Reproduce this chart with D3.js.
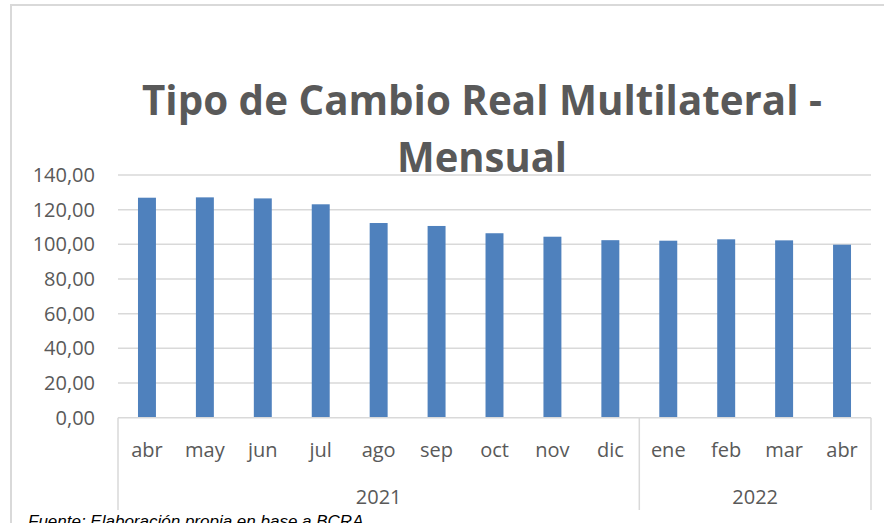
<!DOCTYPE html>
<html>
<head>
<meta charset="utf-8">
<script src="https://cdn.jsdelivr.net/npm/d3@7"></script>
<style>
  body { margin: 0; background: #fff; }
  svg { display: block; }
</style>
</head>
<body>
<svg id="svg"></svg>
<script>
// datos
var meses = ["abr", "may", "jun", "jul", "ago", "sep", "oct", "nov", "dic", "ene", "feb", "mar", "abr"];
var anios = ["2021", "2021", "2021", "2021", "2021", "2021", "2021", "2021", "2021", "2022", "2022", "2022", "2022"];
var valores = [126.9, 127.1, 126.5, 123.1, 112.3, 110.6, 106.4, 104.4, 102.4, 102.1, 102.9, 102.3, 99.8];
var ticksY = [0, 20, 40, 60, 80, 100, 120, 140];

var w = 884, h = 523;
var pLeft = 118, pRight = 871, pTop = 175, pBottom = 417.7;

var svg = d3.select("#svg")
    .attr("width", w)
    .attr("height", h)

// borde del grafico
svg.append("path")
    .attr("d", "M11," + h + "V5H" + w)
    .attr("stroke", "#d9d9d9")
    .attr("stroke-width", 2)
    .attr("fill", "none")

var x = d3.scaleBand()
    .domain(d3.range(meses.length))
    .range([pLeft, pRight])
    .paddingInner(0.69)
    .paddingOuter(0.345)

var y = d3.scaleLinear()
    .domain([0, 140])
    .range([pBottom, pTop])

// grilla
svg.append("g")
    .selectAll("line")
    .data(ticksY.filter(function(d){return d > 0;}))
    .enter().append("line")
    .attr("x1", pLeft)
    .attr("x2", pRight)
    .attr("y1", function(d){return y(d);})
    .attr("y2", function(d){return y(d);})
    .attr("stroke", "#d9d9d9")
    .attr("stroke-width", 1.5)

// eje y
var yAxis = svg.append("g")
    .attr("transform", "translate(" + pLeft + ",0)")
    .call(d3.axisLeft(y).tickValues(ticksY).tickSize(0).tickPadding(23)
        .tickFormat(function(d){return d3.format(".2f")(d).replace(".", ",");}))
yAxis.select(".domain").remove()
yAxis.selectAll("text")
    .attr("fill", "#595959")
    .style("font-family", "'Open Sans', sans-serif")
    .style("font-size", "20px")

// barras
svg.append("g")
    .selectAll("rect")
    .data(valores)
    .enter().append("rect")
    .attr("x", function(d, i){return x(i);})
    .attr("width", x.bandwidth())
    .attr("y", function(d){return y(d);})
    .attr("height", function(d){return y(0) - y(d);})
    .attr("fill", "#4f81bd")

// eje x con categorias por anio
var axisG = svg.append("g")
axisG.append("line")
    .attr("x1", pLeft).attr("x2", pRight)
    .attr("y1", pBottom).attr("y2", pBottom)
    .attr("stroke", "#d9d9d9").attr("stroke-width", 1.5)

var grupos = [];
anios.forEach(function(a, i){
    var g = grupos[grupos.length - 1];
    if (!g || g.anio != a) grupos.push({anio: a, desde: i, hasta: i});
    else g.hasta = i;
});

var step = x.step();
var bordes = [pLeft].concat(grupos.map(function(g){return pLeft + step * (g.hasta + 1);}));
axisG.selectAll("line.sep")
    .data(bordes)
    .enter().append("line")
    .attr("class", "sep")
    .attr("x1", function(d){return d;}).attr("x2", function(d){return d;})
    .attr("y1", pBottom).attr("y2", 510)
    .attr("stroke", "#d9d9d9").attr("stroke-width", 1.5)

axisG.selectAll("text.mes")
    .data(meses)
    .enter().append("text")
    .attr("class", "mes")
    .attr("x", function(d, i){return x(i) + x.bandwidth() / 2;})
    .attr("y", 450)
    .attr("dy", "0.35em")
    .attr("text-anchor", "middle")
    .attr("fill", "#595959")
    .style("font-family", "'Open Sans', sans-serif")
    .style("font-size", "20px")
    .text(function(d){return d;})

axisG.selectAll("text.anio")
    .data(grupos)
    .enter().append("text")
    .attr("class", "anio")
    .attr("x", function(g){return pLeft + step * (g.desde + g.hasta + 1) / 2;})
    .attr("y", 497)
    .attr("dy", "0.35em")
    .attr("text-anchor", "middle")
    .attr("fill", "#595959")
    .style("font-family", "'Open Sans', sans-serif")
    .style("font-size", "20px")
    .text(function(g){return g.anio;})

// titulo
var titulo = ["Tipo de Cambio Real Multilateral -", "Mensual"];
var anchos = [680, 170];
svg.selectAll("text.titulo")
    .data(titulo)
    .enter().append("text")
    .attr("class", "titulo")
    .attr("x", 482)
    .attr("y", function(d, i){return 115 + i * 57;})
    .attr("text-anchor", "middle")
    .attr("fill", "#595959")
    .attr("textLength", function(d, i){return anchos[i];})
    .attr("lengthAdjust", "spacingAndGlyphs")
    .style("font-family", "'Open Sans', sans-serif")
    .style("font-weight", "bold")
    .style("font-size", "42px")
    .text(function(d){return d;})

// fuente
svg.append("text")
    .attr("x", 28)
    .attr("y", 527)
    .attr("fill", "#000")
    .style("font-family", "'Liberation Sans', Arial, sans-serif")
    .style("font-style", "italic")
    .style("font-size", "17px")
    .text("Fuente: Elaboración propia en base a BCRA")
</script>
</body>
</html>
